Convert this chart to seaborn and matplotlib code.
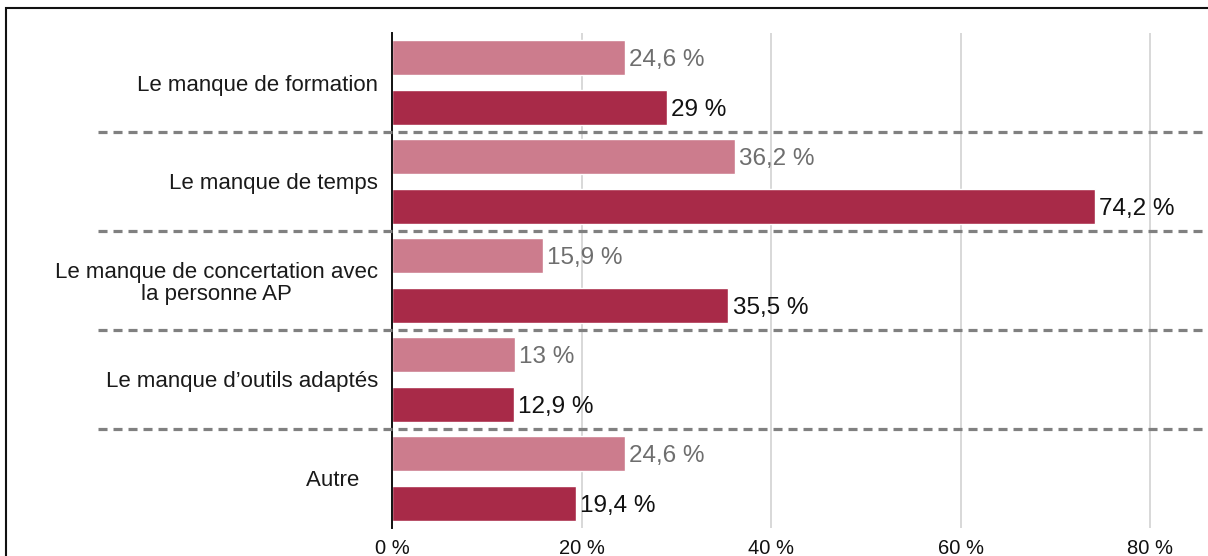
import matplotlib
matplotlib.use("Agg")
import matplotlib.pyplot as plt
import matplotlib.transforms as mtransforms
from matplotlib.patches import Rectangle
import pandas as pd
import seaborn as sns

# --- data -----------------------------------------------------------------
categories = [
    "Le manque de formation",
    "Le manque de temps",
    "Le manque de concertation avec\nla personne AP",
    "Le manque d\u2019outils adaptés",
    "Autre   ",
]
series_names = ["Série 1", "Série 2"]
values_light = [24.6, 36.2, 15.9, 13, 24.6]
values_dark = [29, 74.2, 35.5, 12.9, 19.4]
tick_values = [0, 20, 40, 60, 80]
tick_labels = ["0 %", "20 %", "40 %", "60 %", "80 %"]

colors = ["#CC7C8D", "#A82A48"]
label_colors = ["#6E6E6E", "#111111"]

df = pd.DataFrame({
    "categorie": categories * 2,
    "serie": [series_names[0]] * len(categories) + [series_names[1]] * len(categories),
    "valeur": values_light + values_dark,
})


def fmt(v):
    s = f"{v:g}".replace(".", ",")
    return f"{s} %"


# --- figure ---------------------------------------------------------------
sns.set_theme(style="white")
plt.rcParams["font.family"] = ["Liberation Sans", "DejaVu Sans"]
plt.rcParams["lines.scale_dashes"] = False

W, H = 1208, 556
fig = plt.figure(figsize=(W / 100, H / 100), dpi=100)
ax = fig.add_axes([392 / W, 28 / H, 1 - 392 / W, (528 - 33) / H])

sns.barplot(
    data=df, y="categorie", x="valeur", hue="serie",
    hue_order=series_names, order=categories, palette=colors,
    orient="h", width=1.0, gap=0.29, saturation=1, legend=False, ax=ax,
)

ax.set_xlim(0, (W - 392) / 9.475)
ax.set_ylim(len(categories) - 0.5, -0.5)
ax.set_xticks(tick_values)
ax.set_xticklabels(tick_labels, fontsize=14.5, color="#111111")
ax.set_xlabel("")
ax.set_ylabel("")
ax.tick_params(axis="x", length=0, pad=8)
ax.tick_params(axis="y", length=0, pad=10, labelsize=16, labelcolor="#1a1a1a")
for lab in ax.get_yticklabels():
    lab.set_multialignment("center")
    lab.set_linespacing(1.05)

# vertical grid
ax.grid(axis="x", color="#D2D2D2", linewidth=1.2)
ax.grid(axis="y", visible=False)
ax.set_axisbelow(True)
for side in ["top", "right", "bottom"]:
    ax.spines[side].set_visible(False)
ax.spines["left"].set_color("#111111")
ax.spines["left"].set_linewidth(1.4)
ax.spines["left"].set_zorder(5)

# value labels
for cont, vals, col in zip(ax.containers, [values_light, values_dark], label_colors):
    texts = ax.bar_label(cont, labels=[fmt(v) for v in vals], padding=3,
                         fontsize=17.5, color=col)
    for t in texts:
        t.set_verticalalignment("center_baseline")

# dashed separators between categories
trans = mtransforms.blended_transform_factory(ax.transAxes, ax.transData)
x0 = (98 - 392) / (W - 392)
for k in range(len(categories) - 1):
    y = k + 0.5
    ax.plot([x0, 1.0], [y, y], transform=trans, clip_on=False,
            color="#808080", linewidth=2.3, dashes=(6.5, 4.3), zorder=6)

# outer frame
fig.patches.append(Rectangle((6 / W, -0.1), 1.2, 1 - 8 / H + 0.1,
                             transform=fig.transFigure, fill=False,
                             edgecolor="#111111", linewidth=1.5))

fig.savefig("out.png", dpi=100)
